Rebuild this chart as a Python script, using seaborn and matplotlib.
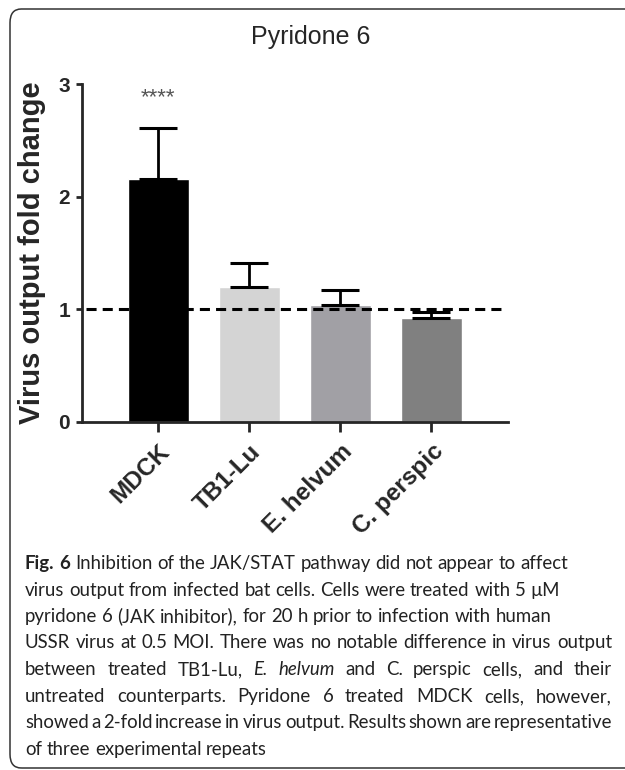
import numpy as np
import seaborn as sns
import matplotlib.pyplot as plt
from matplotlib.patches import FancyBboxPatch

cells = ['MDCK', 'TB1-Lu', 'E. helvum', 'C. perspic']
fold_change = [2.16, 1.20, 1.035, 0.92]
err_up = [0.45, 0.21, 0.135, 0.06]
bar_colors = ['#000000', '#d4d4d4', '#a1a0a5', '#808080']

caption_lines = [
    [('Fig.', 'bold'), ('6', 'bold'), ('Inhibition', 'normal'), ('of', 'normal'), ('the', 'normal'),
     ('JAK/STAT', 'normal'), ('pathway', 'normal'), ('did', 'normal'), ('not', 'normal'),
     ('appear', 'normal'), ('to', 'normal'), ('affect', 'normal')],
    [(w, 'normal') for w in 'virus output from infected bat cells. Cells were treated with 5 µM'.split()],
    [(w, 'normal') for w in 'pyridone 6 (JAK inhibitor), for 20 h prior to infection with human'.split()],
    [(w, 'normal') for w in 'USSR virus at 0.5 MOI. There was no notable difference in virus output'.split()],
    [(w, 'normal') for w in 'between treated TB1-Lu,'.split()] + [('E.', 'italic'), ('helvum', 'italic')]
    + [(w, 'normal') for w in 'and C. perspic cells, and their'.split()],
    [(w, 'normal') for w in 'untreated counterparts. Pyridone 6 treated MDCK cells, however,'.split()],
    [(w, 'normal') for w in 'showed a 2-fold increase in virus output. Results shown are representative'.split()],
    [(w, 'normal') for w in 'of three experimental repeats'.split()],
]
justify = [False, False, False, True, True, True, True, False]

sns.set_style('ticks')
plt.rcParams['font.family'] = ['Liberation Sans', 'DejaVu Sans']

W, H = 625, 770
fig = plt.figure(figsize=(W / 100, H / 100), dpi=100)
ax = fig.add_axes([82 / W, 1 - 422 / H, (508 - 82) / W, (422 - 84) / H])

sns.barplot(x=cells, y=fold_change, hue=cells, palette=bar_colors, legend=False,
            width=0.67, errorbar=None, saturation=1, ax=ax)
ax.errorbar(x=np.arange(len(cells)), y=fold_change, yerr=[np.zeros(len(cells)), err_up],
            fmt='none', ecolor='black', elinewidth=2.0, capsize=14, capthick=2.2, zorder=3)
ax.axhline(1, xmin=0.01, xmax=0.985, color='black', linewidth=2.2, dashes=(3.3, 2.0), zorder=4)
ax.text(0, 2.88, '****', ha='center', va='center', fontsize=16, color='#555555')

ax.set_xlim(-0.835, 3.84)
ax.set_ylim(0, 3)
ax.set_yticks([0, 1, 2, 3])
sns.despine(ax=ax)
for s in ['left', 'bottom']:
    ax.spines[s].set_linewidth(2.0)
ax.tick_params(axis='y', length=4.5, width=2.0, labelsize=15, pad=4)
ax.tick_params(axis='x', length=7, width=2.0, labelsize=17.5, pad=6)
for lab in ax.get_yticklabels():
    lab.set_fontweight('bold')
ax.set_xticks(range(len(cells)))
ax.set_xticklabels(cells, rotation=45, ha='right', va='top', rotation_mode='anchor',
                   fontweight='bold')
ax.set_xlabel('')
ax.set_ylabel('Virus output fold change', fontsize=21, fontweight='bold', labelpad=9)

fig.text(311 / W, 1 - 44 / H, 'Pyridone 6', ha='center', va='baseline', fontsize=18)

# rounded frame, right side runs off the picture
frame = FancyBboxPatch((10 / W, 1 - 768 / H), 700 / W, (768 - 9) / H,
                       boxstyle='round,pad=0,rounding_size=0.018', transform=fig.transFigure,
                       facecolor='none', edgecolor='#333333', linewidth=1.1)
fig.patches.append(frame)

# caption, placed word by word
fig.canvas.draw()
renderer = fig.canvas.get_renderer()
cap_font = ['Lato', 'DejaVu Sans']


def text_width(s, size, style):
    kw = {'fontsize': size, 'family': cap_font}
    if style == 'bold':
        kw['fontweight'] = 'bold'
    elif style == 'italic':
        kw['fontstyle'] = 'italic'
    t = fig.text(0, 0, s, **kw)
    w = t.get_window_extent(renderer).width
    t.remove()
    return w


sp10 = text_width('x x', 10, 'normal') - text_width('xx', 10, 'normal')
w10 = sum(text_width(w, 10, st) for w, st in caption_lines[3]) + sp10 * (len(caption_lines[3]) - 1)
cap_size = 10 * (606 - 25) / w10
space = sp10 * cap_size / 10

baselines = [569, 596, 622, 648, 675, 702, 728, 755]
for words, just, base in zip(caption_lines, justify, baselines):
    widths = [text_width(w, cap_size, st) for w, st in words]
    gap = (612 - 25 - sum(widths)) / (len(words) - 1) if just else space
    x = 25
    for (w, st), wd in zip(words, widths):
        kw = {'fontsize': cap_size, 'family': cap_font, 'color': '#222222'}
        if st == 'bold':
            kw['fontweight'] = 'bold'
        elif st == 'italic':
            kw['fontstyle'] = 'italic'
        fig.text(x / W, 1 - base / H, w, ha='left', va='baseline', **kw)
        x += wd + gap

fig.savefig('out.png', dpi=100)
